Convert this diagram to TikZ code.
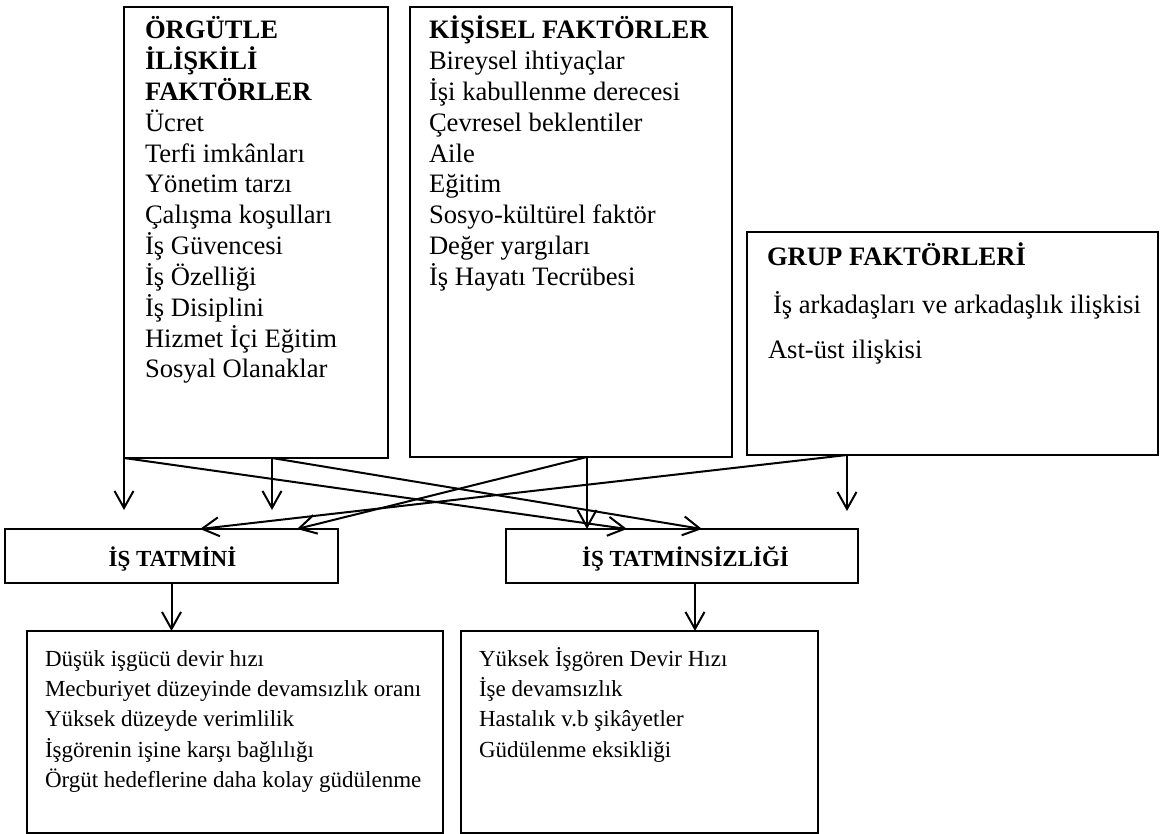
\documentclass[tikz,border=0pt]{standalone}
\usepackage{fontspec}
\setmainfont{Liberation Serif}
\usetikzlibrary{arrows.meta}
\newcommand\upsz{\fontsize{26.6}{30.8}\selectfont}
\newcommand\lowsz{\fontsize{23}{30.4}\selectfont}
\begin{document}
\begin{tikzpicture}[x=1pt, y=-1pt,
  box/.style={draw=black, line width=2pt, inner sep=0pt, outer sep=0pt},
  txt/.style={anchor=base west, inner sep=0pt, outer sep=0pt},
  head/.style={anchor=base, inner sep=0pt, outer sep=0pt, font=\lowsz\bfseries},
  link/.style={line width=2pt, -{Straight Barb[length=17pt, width=19pt]}},
]
\useasboundingbox (0,0) rectangle (1162,834);

% factor boxes
\node[box, minimum width=264pt, minimum height=451pt] (org) at (256,232.5) {};
\node[box, minimum width=322pt, minimum height=450pt] (kis) at (571,232) {};
\node[box, minimum width=411pt, minimum height=223pt] (grp) at (952.5,343.5) {};

% result boxes
\node[box, minimum width=333pt, minimum height=54pt] (tat) at (171.5,556) {};
\node[box, minimum width=352pt, minimum height=54pt] (tsz) at (682,556) {};
\node[box, minimum width=416pt, minimum height=202pt] (o1) at (235,732) {};
\node[box, minimum width=357pt, minimum height=202pt] (o2) at (639.5,732) {};

% organisational factors
\foreach \t [count=\i from 0] in {ÖRGÜTLE, İLİŞKİLİ, FAKTÖRLER}
  \node[txt, font=\upsz\bfseries] (orgh\i) at (145,39+30.8*\i) {\t};
\foreach \t [count=\i from 3] in {Ücret, Terfi imkânları, Yönetim tarzı,
    Çalışma koşulları, İş Güvencesi, İş Özelliği, İş Disiplini,
    Hizmet İçi Eğitim, Sosyal Olanaklar}
  \node[txt, font=\upsz] (orgl\i) at (145,39+30.8*\i) {\t};

% personal factors
\node[txt, font=\upsz\bfseries] (kish) at (429,39) {KİŞİSEL FAKTÖRLER};
\foreach \t [count=\i from 1] in {Bireysel ihtiyaçlar, İşi kabullenme derecesi,
    Çevresel beklentiler, Aile, Eğitim, Sosyo-kültürel faktör,
    Değer yargıları, İş Hayatı Tecrübesi}
  \node[txt, font=\upsz] (kisl\i) at (429,39+30.8*\i) {\t};

% group factors
\node[txt, font=\upsz\bfseries] (grph) at (767,266) {GRUP FAKTÖRLERİ};
\node[txt, font=\upsz] (grp1) at (773,313) {İş arkadaşları ve arkadaşlık ilişkisi};
\node[txt, font=\upsz] (grp2) at (768,358) {Ast-üst ilişkisi};

% result titles
\node[head] (tath) at (172.5,566) {İŞ TATMİNİ};
\node[head] (tszh) at (685.5,566) {İŞ TATMİNSİZLİĞİ};

% consequences
\foreach \t [count=\i from 0] in {Düşük işgücü devir hızı,
    Mecburiyet düzeyinde devamsızlık oranı, Yüksek düzeyde verimlilik,
    İşgörenin işine karşı bağlılığı, Örgüt hedeflerine daha kolay güdülenme}
  \node[txt, font=\lowsz] (o1l\i) at (45,666+30.4*\i) {\t};
\foreach \t [count=\i from 0] in {Yüksek İşgören Devir Hızı, İşe devamsızlık,
    Hastalık v.b şikâyetler, Güdülenme eksikliği}
  \node[txt, font=\lowsz] (o2l\i) at (479,666+30.4*\i) {\t};

% connector end points
\coordinate (a1) at (org.south west);
\coordinate (a2) at ([xshift=148pt]org.south west);
\coordinate (b1) at ([xshift=177pt]kis.south west);
\coordinate (c1) at ([xshift=100pt]grp.south west);
\coordinate (t1) at ([xshift=195pt]tat.north west);
\coordinate (t2) at ([xshift=292pt]tat.north west);
\coordinate (s1) at ([xshift=121pt]tsz.north west);
\coordinate (s2) at ([xshift=196pt]tsz.north west);
\coordinate (s3) at ([xshift=13pt]tsz.south);

% factors to satisfaction / dissatisfaction
\draw[link, shorten >=19pt] (a1) -- (a1 |- tat.north);
\draw[link, shorten >=19pt] (a2) -- (a2 |- tat.north);
\draw[link] (a1) -- (s1);
\draw[link] (a2) -- (s2);
\draw[link] (b1) -- (b1 |- tsz.north);
\draw[link] (b1) -- (t2);
\draw[link, shorten >=18pt] (c1) -- (c1 |- tsz.north);
\draw[link] (c1) -- (t1);

% satisfaction / dissatisfaction to consequences
\draw[link] (tat.south) -- (tat.south |- o1.north);
\draw[link] (s3) -- (s3 |- o2.north);
\end{tikzpicture}
\end{document}
